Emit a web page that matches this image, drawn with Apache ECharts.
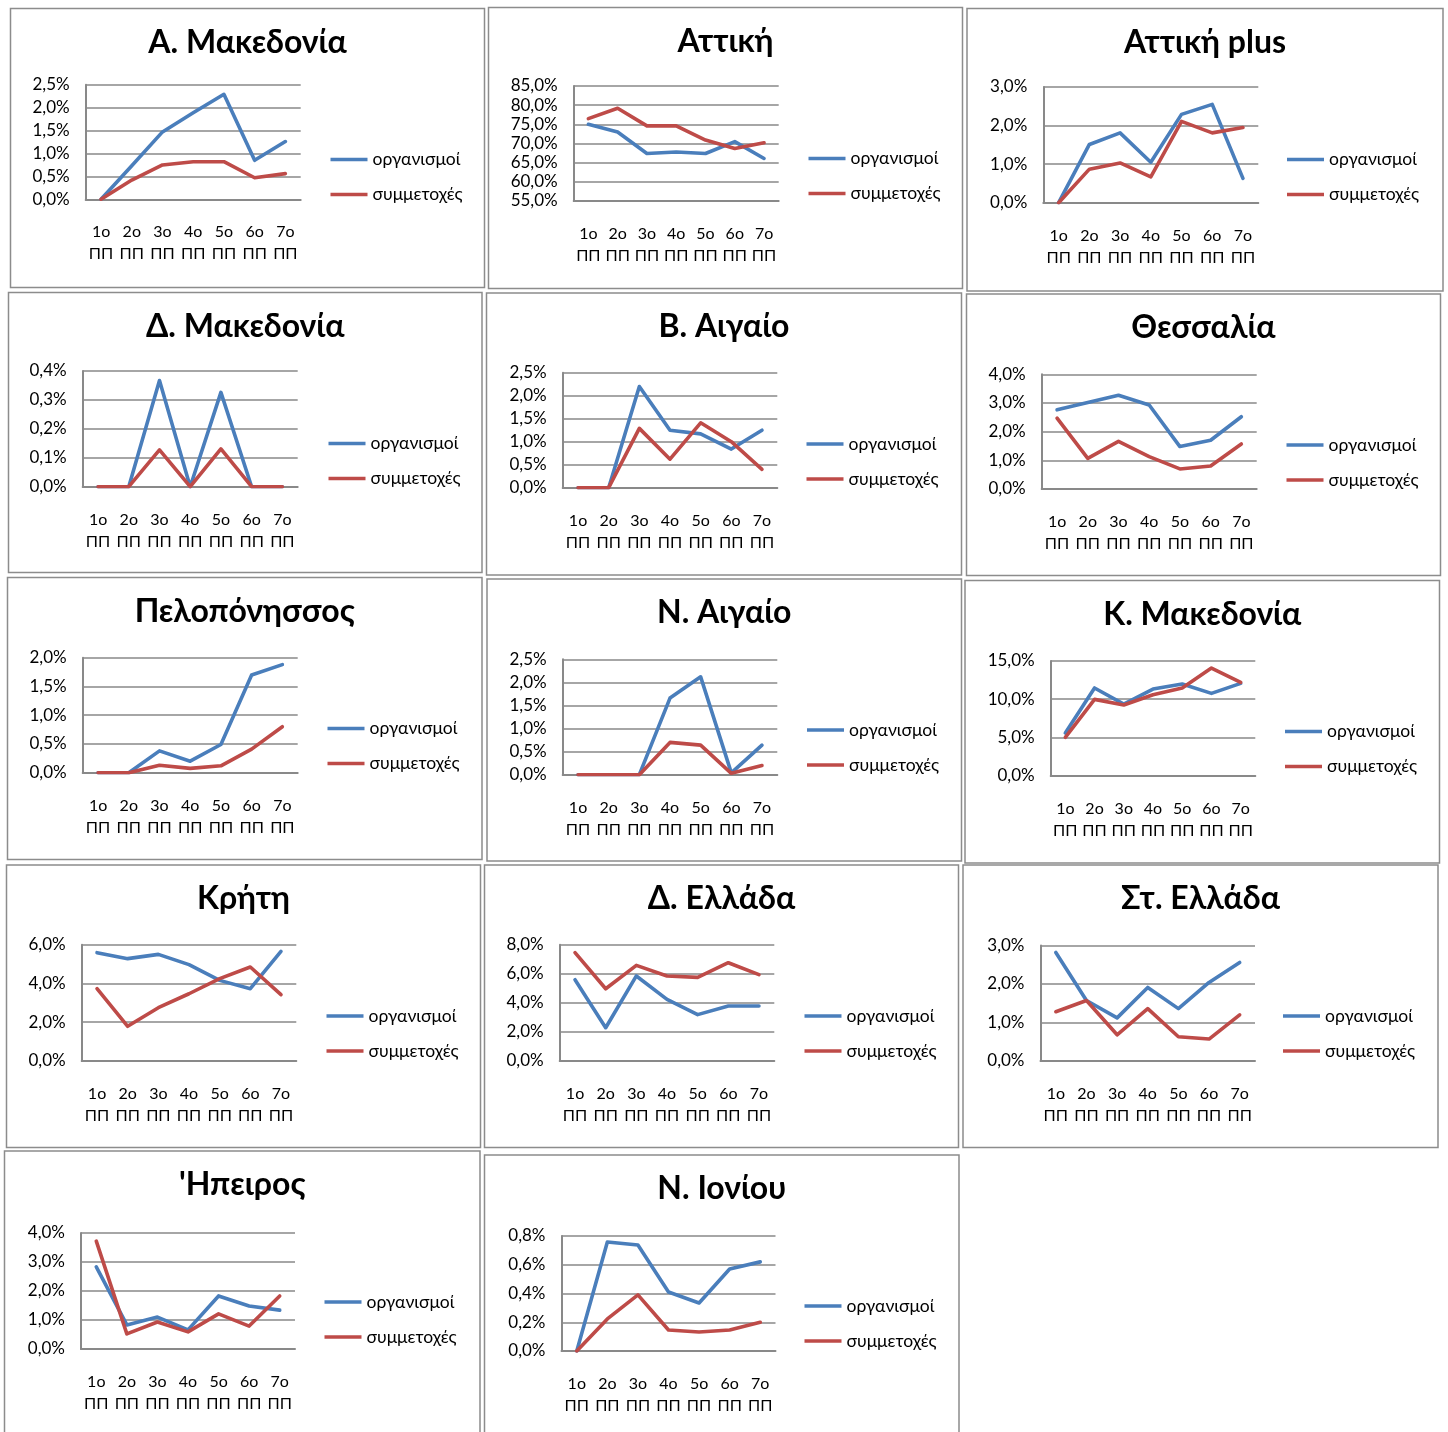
<!DOCTYPE html>
<html>
<head>
<meta charset="utf-8">
<style>
  html, body { margin: 0; padding: 0; background: #fff; }
  #chart { width: 1448px; height: 1432px; }
</style>
<script src="https://cdn.jsdelivr.net/npm/echarts@6/dist/echarts.min.js"></script>
</head>
<body>
<div id="chart"></div>
<script>
// Framework programmes on the x axis
const periods = ['1ο\nΠΠ', '2ο\nΠΠ', '3ο\nΠΠ', '4ο\nΠΠ', '5ο\nΠΠ', '6ο\nΠΠ', '7ο\nΠΠ'];
const seriesNames = ['οργανισμοί', 'συμμετοχές'];

const regionTitles = [
  'Α. Μακεδονία', 'Αττική', 'Αττική plus',
  'Δ. Μακεδονία', 'Β. Αιγαίο', 'Θεσσαλία',
  'Πελοπόνησσος', 'Ν. Αιγαίο', 'Κ. Μακεδονία',
  'Κρήτη', 'Δ. Ελλάδα', 'Στ. Ελλάδα',
  '\'Ηπειρος', 'Ν. Ιονίου'
];

// Shares (%) per region: organisations and participations
const aMakedoniaOrg   = [0, 0.73, 1.47, 1.89, 2.29, 0.85, 1.26];
const aMakedoniaPart  = [0, 0.42, 0.75, 0.82, 0.82, 0.47, 0.56];
const attikiOrg       = [75.0, 73.0, 67.4, 67.8, 67.4, 70.5, 66.1];
const attikiPart      = [76.5, 79.2, 74.6, 74.6, 70.9, 68.7, 70.2];
const attikiPlusOrg   = [0, 1.51, 1.81, 1.05, 2.29, 2.55, 0.63];
const attikiPlusPart  = [0, 0.87, 1.03, 0.67, 2.11, 1.81, 1.95];
const dMakedoniaOrg   = [0, 0, 0.367, 0, 0.326, 0, 0];
const dMakedoniaPart  = [0, 0, 0.127, 0, 0.131, 0, 0];
const bAigaioOrg      = [0, 0, 2.20, 1.25, 1.17, 0.84, 1.25];
const bAigaioPart     = [0, 0, 1.29, 0.62, 1.41, 1.00, 0.40];
const thessaliaOrg    = [2.76, 3.02, 3.27, 2.93, 1.48, 1.70, 2.52];
const thessaliaPart   = [2.47, 1.07, 1.66, 1.13, 0.70, 0.80, 1.57];
const peloponnisosOrg = [0, 0, 0.38, 0.20, 0.49, 1.70, 1.88];
const peloponnisosPart= [0, 0, 0.13, 0.075, 0.12, 0.41, 0.80];
const nAigaioOrg      = [0, 0, 0, 1.66, 2.12, 0.04, 0.64];
const nAigaioPart     = [0, 0, 0, 0.70, 0.64, 0.03, 0.20];
const kMakedoniaOrg   = [5.58, 11.47, 9.37, 11.33, 11.99, 10.77, 12.07];
const kMakedoniaPart  = [5.01, 9.98, 9.24, 10.59, 11.46, 14.08, 12.20];
const kritiOrg        = [5.59, 5.28, 5.50, 4.97, 4.16, 3.73, 5.66];
const kritiPart       = [3.73, 1.79, 2.75, 3.47, 4.25, 4.85, 3.42];
const dElladaOrg      = [5.59, 2.29, 5.85, 4.24, 3.19, 3.78, 3.78];
const dElladaPart     = [7.45, 4.97, 6.58, 5.85, 5.75, 6.76, 5.94];
const stElladaOrg     = [2.82, 1.57, 1.12, 1.91, 1.36, 2.04, 2.56];
const stElladaPart    = [1.28, 1.57, 0.68, 1.36, 0.63, 0.57, 1.20];
const ipeirosOrg      = [2.83, 0.83, 1.10, 0.66, 1.83, 1.48, 1.34];
const ipeirosPart     = [3.72, 0.52, 0.93, 0.59, 1.21, 0.79, 1.83];
const nIoniouOrg      = [0, 0.758, 0.737, 0.41, 0.334, 0.57, 0.62];
const nIoniouPart     = [0, 0.223, 0.39, 0.146, 0.132, 0.146, 0.20];

// Value axis range for each region
const axisMin  = [0, 55, 0, 0, 0, 0, 0, 0, 0, 0, 0, 0, 0, 0];
const axisMax  = [2.5, 85, 3, 0.4, 2.5, 4, 2, 2.5, 15, 6, 8, 3, 4, 0.8];
const axisStep = [0.5, 5, 1, 0.1, 0.5, 1, 0.5, 0.5, 5, 2, 2, 1, 1, 0.2];

const orgSeries = [aMakedoniaOrg, attikiOrg, attikiPlusOrg, dMakedoniaOrg, bAigaioOrg, thessaliaOrg,
  peloponnisosOrg, nAigaioOrg, kMakedoniaOrg, kritiOrg, dElladaOrg, stElladaOrg, ipeirosOrg, nIoniouOrg];
const partSeries = [aMakedoniaPart, attikiPart, attikiPlusPart, dMakedoniaPart, bAigaioPart, thessaliaPart,
  peloponnisosPart, nAigaioPart, kMakedoniaPart, kritiPart, dElladaPart, stElladaPart, ipeirosPart, nIoniouPart];

// Layout: frame box [x, y, w, h] and plot box [left, top, right, bottom] of each small chart
const frames = [
  [10.5, 8.5, 474, 279], [488.5, 7.5, 474, 281], [967, 8.5, 476, 282.5],
  [8.5, 292.5, 473.5, 280], [486.5, 293, 475, 282], [966.5, 294, 474, 281.5],
  [7.5, 577.5, 474.5, 282], [487, 579, 474.5, 282], [965, 580.5, 474.5, 282.5],
  [6.5, 865, 474, 282.5], [484.5, 865, 474, 282.5], [963, 865, 475, 282.5],
  [4.5, 1151, 475.5, 290], [484.5, 1155, 474.5, 290]
];
const plots = [
  [85.7, 84.7, 300.7, 199.3], [573.7, 86, 778.7, 201], [1043.3, 87, 1258.3, 202.7],
  [82.7, 371, 297.7, 486.7], [562.7, 372.7, 777.3, 487.7], [1041.7, 374.3, 1256.7, 489],
  [82.7, 657.7, 297.7, 772.7], [562.7, 659.3, 777.3, 774.7], [1050.7, 661, 1255.3, 775.7],
  [81.7, 944.7, 296.3, 1061], [559.7, 944.7, 774.3, 1061], [1040.5, 945.5, 1255, 1061],
  [81, 1233, 295, 1349], [561.5, 1236, 775.5, 1351]
];

const FONT = 'Lato, "Noto Sans", sans-serif';
const BLUE = '#4a7ebb';
const RED = '#be4b48';
const AXIS_GREY = '#898989';

const fmtPct = v => v.toFixed(1).replace('.', ',') + '%';

const grid = [], xAxis = [], yAxis = [], series = [], legend = [], graphic = [];

regionTitles.forEach((title, i) => {
  const [fx, fy, fw, fh] = frames[i];
  const [pl, pt, pr, pb] = plots[i];

  graphic.push({
    type: 'rect', silent: true,
    shape: { x: fx, y: fy, width: fw, height: fh },
    style: { fill: 'none', stroke: '#8c8c8c', lineWidth: 1.5 }
  });
  graphic.push({
    type: 'text', silent: true,
    x: fx + fw / 2, y: fy + 34,
    style: {
      text: title, align: 'center', verticalAlign: 'middle',
      font: 'bold 32px ' + FONT, fill: '#000'
    }
  });

  grid.push({ left: pl, top: pt, width: pr - pl, height: pb - pt, outerBoundsMode: 'none' });

  xAxis.push({
    type: 'category', gridIndex: i, data: periods, boundaryGap: true,
    axisLine: { show: true, lineStyle: { color: AXIS_GREY, width: 2 } },
    axisTick: { show: false },
    axisLabel: { color: '#000', fontFamily: FONT, fontSize: 16, lineHeight: 22, margin: 22, interval: 0 },
    splitLine: { show: false }
  });

  yAxis.push({
    type: 'value', gridIndex: i,
    min: axisMin[i], max: axisMax[i], interval: axisStep[i],
    axisLine: { show: true, lineStyle: { color: AXIS_GREY, width: 2 } },
    axisTick: { show: false },
    axisLabel: { color: '#000', fontFamily: FONT, fontSize: 17, margin: 16, formatter: fmtPct },
    splitLine: { show: true, lineStyle: { color: AXIS_GREY, width: 1.5 } }
  });

  [orgSeries[i], partSeries[i]].forEach((vals, k) => {
    series.push({
      type: 'line', name: seriesNames[k],
      xAxisIndex: i, yAxisIndex: i,
      data: vals, symbol: 'none', smooth: false, animation: false,
      lineStyle: { color: k === 0 ? BLUE : RED, width: 3.6, join: 'round', cap: 'round' },
      itemStyle: { color: k === 0 ? BLUE : RED }
    });
  });

  legend.push({
    data: seriesNames, orient: 'vertical',
    left: fx + 320, top: fy + 141,
    padding: 0, itemGap: 15, itemWidth: 37, itemHeight: 3.5,
    icon: 'rect', selectedMode: false,
    textStyle: { fontFamily: FONT, fontSize: 17.5, color: '#000', lineHeight: 20 }
  });
});

const chart = echarts.init(document.getElementById('chart'), null, { renderer: 'canvas' });
chart.setOption({
  backgroundColor: '#fff',
  animation: false,
  grid, xAxis, yAxis, series, legend, graphic
});
</script>
</body>
</html>
